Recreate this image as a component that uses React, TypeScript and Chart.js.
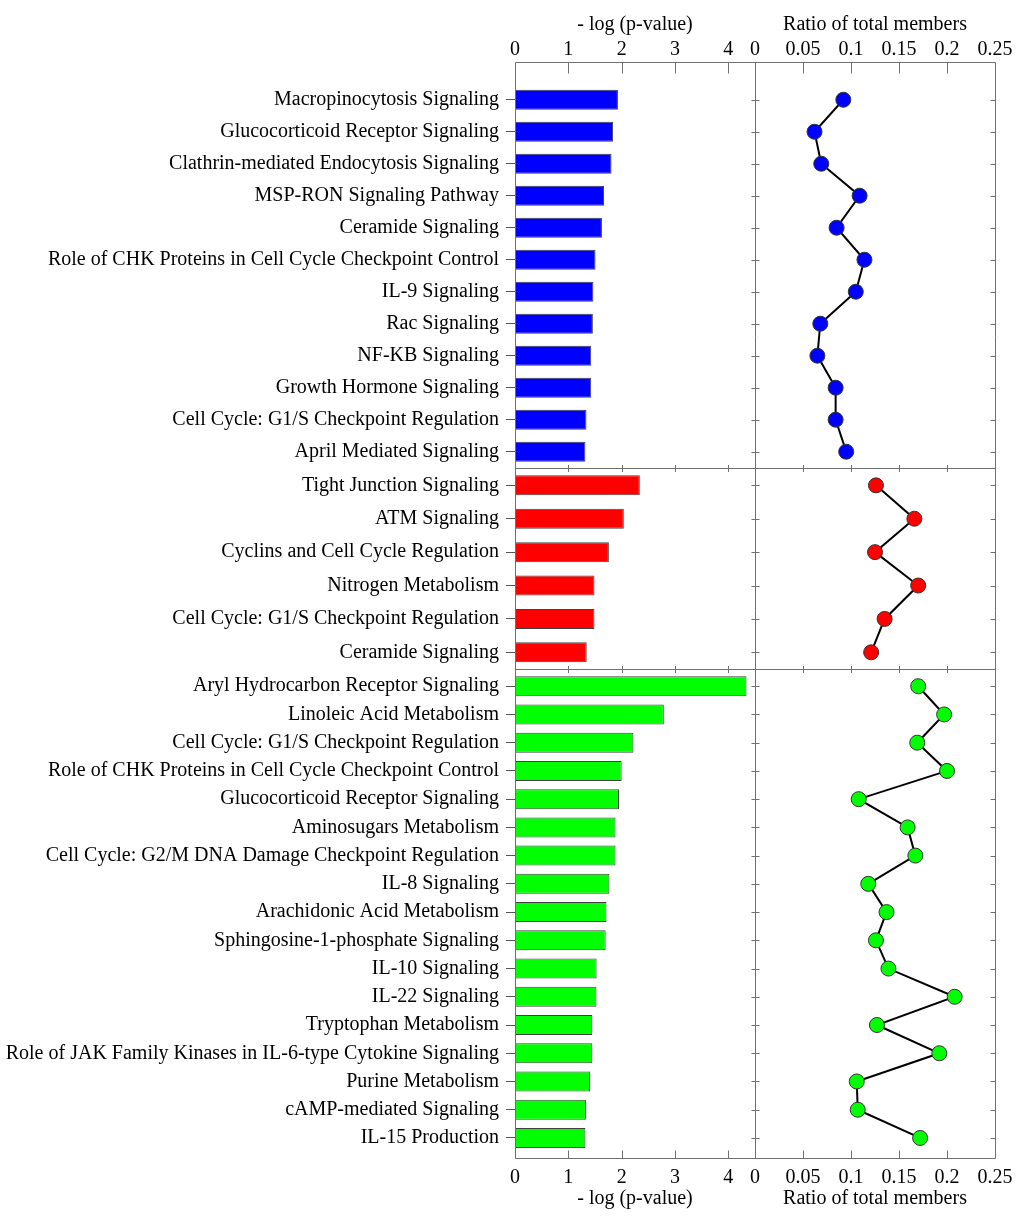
import { useEffect, useRef } from 'react';
import { Chart, registerables } from 'chart.js';

Chart.register(...registerables);

// pathway groups, top to bottom
const blueLabels = [
  'Macropinocytosis Signaling',
  'Glucocorticoid Receptor Signaling',
  'Clathrin-mediated Endocytosis Signaling',
  'MSP-RON Signaling Pathway',
  'Ceramide Signaling',
  'Role of CHK Proteins in Cell Cycle Checkpoint Control',
  'IL-9 Signaling',
  'Rac Signaling',
  'NF-KB Signaling',
  'Growth Hormone Signaling',
  'Cell Cycle: G1/S Checkpoint Regulation',
  'April Mediated Signaling',
];
const blueLogP = [1.93, 1.84, 1.81, 1.67, 1.63, 1.51, 1.47, 1.46, 1.43, 1.43, 1.34, 1.32];
const blueRatio = [0.092, 0.062, 0.069, 0.109, 0.085, 0.114, 0.105, 0.068, 0.065, 0.084, 0.084, 0.095];

const redLabels = [
  'Tight Junction Signaling',
  'ATM Signaling',
  'Cyclins and Cell Cycle Regulation',
  'Nitrogen Metabolism',
  'Cell Cycle: G1/S Checkpoint Regulation',
  'Ceramide Signaling',
];
const redLogP = [2.34, 2.04, 1.76, 1.49, 1.49, 1.345];
const redRatio = [0.126, 0.166, 0.125, 0.17, 0.135, 0.121];

const greenLabels = [
  'Aryl Hydrocarbon Receptor Signaling',
  'Linoleic Acid Metabolism',
  'Cell Cycle: G1/S Checkpoint Regulation',
  'Role of CHK Proteins in Cell Cycle Checkpoint Control',
  'Glucocorticoid Receptor Signaling',
  'Aminosugars Metabolism',
  'Cell Cycle: G2/M DNA Damage Checkpoint Regulation',
  'IL-8 Signaling',
  'Arachidonic Acid Metabolism',
  'Sphingosine-1-phosphate Signaling',
  'IL-10 Signaling',
  'IL-22 Signaling',
  'Tryptophan Metabolism',
  'Role of JAK Family Kinases in IL-6-type Cytokine Signaling',
  'Purine Metabolism',
  'cAMP-mediated Signaling',
  'IL-15 Production',
];
const greenLogP = [4.34, 2.79, 2.22, 2.0, 1.95, 1.885, 1.885, 1.77, 1.715, 1.7, 1.53, 1.527, 1.45, 1.45, 1.41, 1.33, 1.32];
const greenRatio = [0.17, 0.197, 0.169, 0.2, 0.108, 0.159, 0.167, 0.118, 0.137, 0.126, 0.139, 0.208, 0.127, 0.192, 0.106, 0.107, 0.172];

const logPTicks = [0, 1, 2, 3, 4];
const ratioTicks = [0, 0.05, 0.1, 0.15, 0.2, 0.25];

const font = { family: "'Liberation Serif', 'Times New Roman', serif", size: 20 };
const lineGray = '#707070';

const rows = [
  { id: 'yB', labels: blueLabels, logP: blueLogP, ratio: blueRatio, color: '#0000ff', min: -1.18, max: 11.51, weight: 406 },
  { id: 'yR', labels: redLabels, logP: redLogP, ratio: redRatio, color: '#ff0000', min: -0.52, max: 5.5, weight: 201 },
  { id: 'yG', labels: greenLabels, logP: greenLogP, ratio: greenRatio, color: '#00ff00', min: -0.61, max: 16.71, weight: 489 },
];

function xAxis(position: 'top' | 'bottom', max: number, ticks: number[], title: string) {
  const top = position === 'top';
  return {
    type: 'linear',
    position,
    stack: position,
    stackWeight: 1,
    min: 0,
    max,
    offset: false,
    bounds: 'data',
    afterBuildTicks: (s: any) => { s.ticks = ticks.map((v) => ({ value: v })); },
    afterFit: (s: any) => { s.height = 62; s.paddingLeft = 0; s.paddingRight = 0; },
    grid: { display: false, drawTicks: false, offset: false },
    border: { display: false },
    ticks: { color: '#000', font, padding: top ? 0 : 8, maxRotation: 0, autoSkip: false, callback: (v: number) => String(v) },
    title: { display: true, text: title, color: '#000', font, padding: top ? { top: 12.5, bottom: 0 } : { top: 0, bottom: 9.5 } },
  };
}

function yAxis(labels: string[], min: number, max: number, weight: number) {
  return {
    type: 'linear',
    position: 'left',
    stack: 'rows',
    stackWeight: weight,
    reverse: true,
    min,
    max,
    offset: false,
    bounds: 'data',
    afterBuildTicks: (s: any) => { s.ticks = labels.map((_, i) => ({ value: i })); },
    afterFit: (s: any) => { s.width = 515; s.paddingTop = 0; s.paddingBottom = 0; },
    grid: { drawOnChartArea: false, drawTicks: true, tickLength: 9, color: '#555', offset: false },
    border: { display: false },
    ticks: { color: '#000', font, padding: 7, autoSkip: false, callback: (v: number) => labels[Math.round(v)] },
  };
}

// frame, separators and the inward tick marks
const framePlugin = {
  id: 'frame',
  afterDatasetsDraw(chart: any) {
    const { ctx, chartArea: a, scales } = chart;
    const px = (v: number) => Math.round(v) + 0.5;
    const line = (x1: number, y1: number, x2: number, y2: number) => {
      ctx.beginPath();
      ctx.moveTo(x1, y1);
      ctx.lineTo(x2, y2);
      ctx.stroke();
    };
    const left = px(a.left), right = px(a.right), top = px(a.top), bottom = px(a.bottom);
    const mid = px(scales.xR.left);
    const seps = [px(scales.yB.bottom), px(scales.yR.bottom)];
    ctx.save();
    ctx.strokeStyle = lineGray;
    ctx.lineWidth = 1;
    line(left, top, right, top);
    line(left, bottom, right, bottom);
    line(left, top, left, bottom);
    line(mid, top, mid, bottom);
    line(right, top, right, bottom);
    seps.forEach((y) => line(left, y, right, y));

    [scales.xL, scales.xR].forEach((s: any) => {
      s.ticks.forEach((t: any) => {
        const x = px(s.getPixelForValue(t.value));
        if (Math.abs(x - left) < 2 || Math.abs(x - mid) < 2 || Math.abs(x - right) < 2) return;
        line(x, top, x, top + 11);
        line(x, bottom, x, bottom - 8);
        seps.forEach((y) => line(x, y - 3.5, x, y + 3.5));
      });
    });

    rows.forEach((r) => {
      const s = scales[r.id];
      s.ticks.forEach((t: any) => {
        const y = px(s.getPixelForValue(t.value));
        line(mid - 4, y, mid + 4, y);
        line(right - 5, y, right, y);
      });
    });
    ctx.restore();
  },
};

export default function App() {
  const ref = useRef<HTMLCanvasElement | null>(null);

  useEffect(() => {
    if (!ref.current) return;
    const datasets: any[] = [];
    rows.forEach((r) => {
      datasets.push({
        type: 'bar',
        indexAxis: 'y',
        xAxisID: 'xL',
        yAxisID: r.id,
        data: r.logP.map((v, i) => ({ x: v, y: i })),
        backgroundColor: r.color,
        borderColor: '#404040',
        borderWidth: 1,
        grouped: false,
        maxBarThickness: 20,
      });
      datasets.push({
        type: 'line',
        xAxisID: 'xR',
        yAxisID: r.id,
        data: r.ratio.map((v, i) => ({ x: v, y: i })),
        borderColor: '#000',
        borderWidth: 2,
        fill: false,
        tension: 0,
        pointRadius: 7.5,
        pointBackgroundColor: r.color,
        pointBorderColor: '#333',
        pointBorderWidth: 1,
      });
    });

    // Chart.js lays out left and top stacks in reverse order of definition
    const scales: any = {
      xR: xAxis('top', 0.25, ratioTicks, 'Ratio of total members'),
      xL: xAxis('top', 4.5, logPTicks, '- log (p-value)'),
      xLb: xAxis('bottom', 4.5, logPTicks, '- log (p-value)'),
      xRb: xAxis('bottom', 0.25, ratioTicks, 'Ratio of total members'),
    };
    [...rows].reverse().forEach((r) => { scales[r.id] = yAxis(r.labels, r.min, r.max, r.weight); });

    const chart = new Chart(ref.current, {
      type: 'bar',
      data: { datasets },
      options: {
        responsive: false,
        animation: false,
        events: [],
        layout: { padding: { left: 0, top: 0, bottom: 0, right: 29 } },
        plugins: { legend: { display: false }, tooltip: { enabled: false } },
        scales,
      },
      plugins: [framePlugin],
    } as any);
    return () => chart.destroy();
  }, []);

  return (
    <div style={{ position: 'absolute', left: 0, top: 0, width: 1024, height: 1220, background: '#fff' }}>
      <canvas ref={ref} width={1024} height={1220} style={{ width: 1024, height: 1220 }} />
    </div>
  );
}
